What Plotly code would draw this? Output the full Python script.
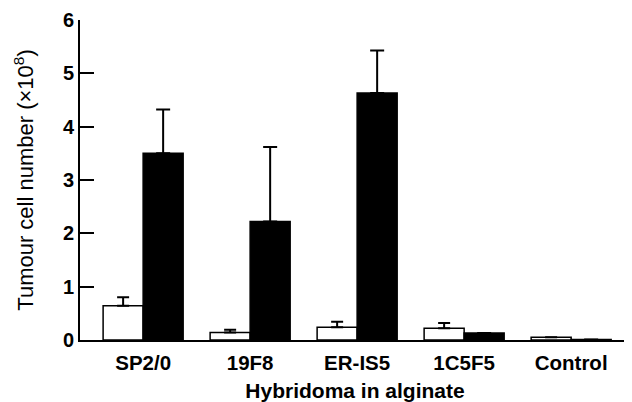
import plotly.graph_objects as go

categories = ["SP2/0", "19F8", "ER-IS5", "1C5F5", "Control"]
open_values = [0.64, 0.14, 0.24, 0.22, 0.05]
open_errors = [0.16, 0.05, 0.10, 0.10, 0.0]
filled_values = [3.50, 2.22, 4.63, 0.13, 0.01]
filled_errors = [0.82, 1.40, 0.80, 0.0, 0.0]
y_ticks = [0, 1, 2, 3, 4, 5, 6]

font_family = "Liberation Sans, Arial, sans-serif"

fig = go.Figure()
fig.add_trace(go.Bar(
    x=categories, y=open_values,
    marker=dict(color="white", line=dict(color="black", width=1.5)),
    error_y=dict(type="data", array=open_errors, arrayminus=[0]*len(open_errors),
                 symmetric=False, color="black", thickness=2, width=6, visible=True),
    showlegend=False,
))
fig.add_trace(go.Bar(
    x=categories, y=filled_values,
    marker=dict(color="black", line=dict(color="black", width=1.5)),
    error_y=dict(type="data", array=filled_errors, arrayminus=[0]*len(filled_errors),
                 symmetric=False, color="black", thickness=2, width=7, visible=True),
    showlegend=False,
))

fig.update_layout(
    width=624, height=394,
    margin=dict(l=72, r=2, t=12, b=62),
    paper_bgcolor="white", plot_bgcolor="white",
    barmode="group", bargap=0.252, bargroupgap=0,
    font=dict(family=font_family, size=16, color="black"),
    xaxis=dict(
        range=[-0.59, 4.55], showline=True, linecolor="black", linewidth=2,
        ticks="", showgrid=False, zeroline=False, automargin=False,
        tickfont=dict(size=20.5, family=font_family, weight="bold"),
        ticklabelstandoff=3,
        title=dict(text="Hybridoma in alginate", font=dict(size=21, weight="bold"), standoff=15),
    ),
    yaxis=dict(
        range=[0, 6], tickvals=y_ticks, showline=True, linecolor="black", linewidth=2,
        ticks="inside", ticklen=14, tickwidth=2, tickcolor="black",
        showgrid=False, zeroline=False, automargin=False,
        tickfont=dict(size=20, family=font_family, weight="bold"),
        title=dict(text="Tumour cell number (×10<sup>8</sup>)", font=dict(size=22), standoff=23),
    ),
)

fig.write_html("out.html")
